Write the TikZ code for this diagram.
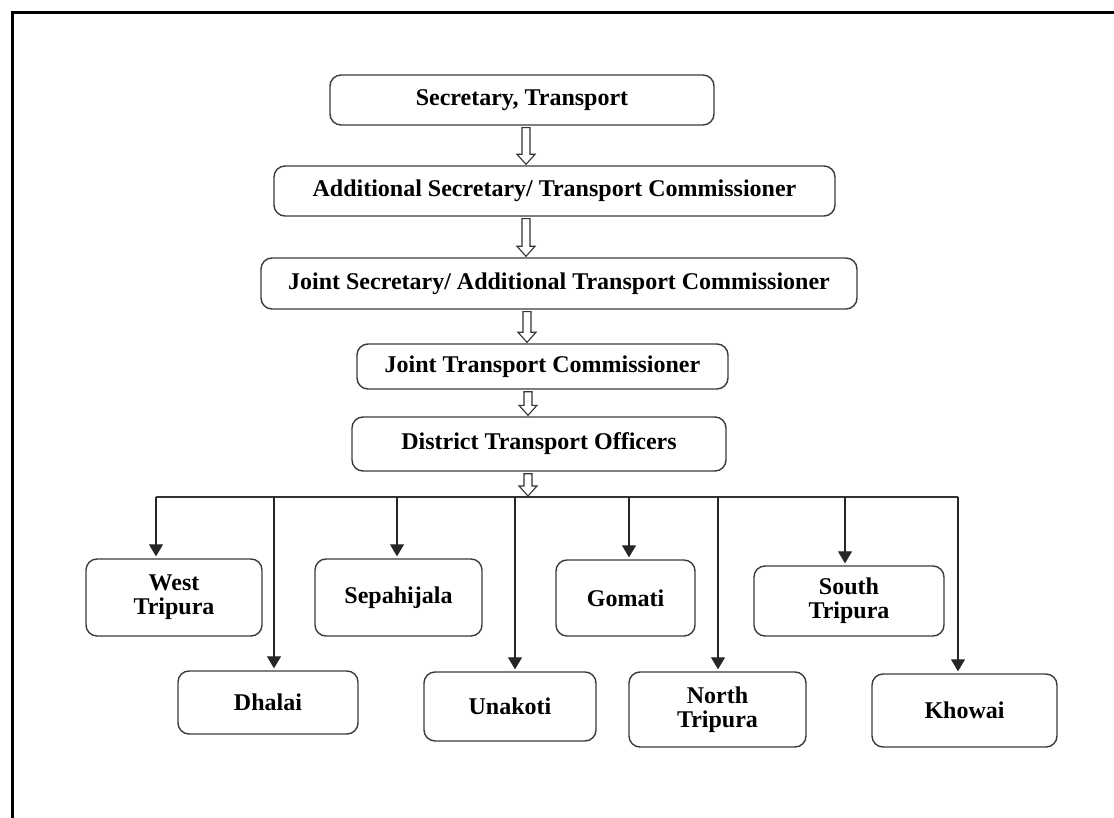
\documentclass[tikz,border=0pt]{standalone}
\usepackage{fontspec}
\setmainfont{Liberation Serif}
\usetikzlibrary{arrows.meta,calc}
\definecolor{boxgray}{HTML}{3A3A3A}
\newcommand\boxat[6]{\node[box, minimum width={(#4-#2)*1pt}, minimum height={(#5-#3)*1pt}] (#1) at ({(#2+#4)/2},{(#3+#5)/2}) {#6};}
\newcommand\hollowarr[3]{\draw[harrow] let \p1=(#1.south), \p2=(#2) in
  ({#3pt-4pt},{\y1-2pt}) -- ({#3pt+4pt},{\y1-2pt}) -- ({#3pt+4pt},{\y2+11pt}) -- ({#3pt+9pt},{\y2+11pt}) -- ({#3pt},{\y2+1pt}) -- ({#3pt-9pt},{\y2+11pt}) -- ({#3pt-4pt},{\y2+11pt}) -- cycle;}
\begin{document}
\begin{tikzpicture}[x=1pt,y=-1pt,
  box/.style={draw=boxgray, line width=1.4pt, rounded corners=11pt, inner sep=0pt, align=center, font=\bfseries\fontsize{24}{24}\selectfont, text=black},
  drop/.style={draw=black!85, line width=1.3pt, shorten >=2pt, -{Triangle[length=12pt,width=14pt]}},
  harrow/.style={draw=black!80, line width=1.1pt, fill=white},
  bus/.style={draw=black!80, line width=1.3pt},
  frame/.style={draw=black, line width=3pt}]
\useasboundingbox (0,0) rectangle (1114,818);
\draw[frame] (12,818) -- (12,13) -- (1114,13);

\boxat{s1}{330}{75}{714}{125}{Secretary, Transport}
\boxat{s2}{274}{166}{835}{216}{Additional Secretary/ Transport Commissioner}
\boxat{s3}{261}{258}{857}{309}{Joint Secretary/ Additional Transport Commissioner}
\boxat{s4}{357}{344}{728}{389}{Joint Transport Commissioner}
\boxat{s5}{352}{417}{726}{471}{District Transport Officers}

\boxat{west}{86}{559}{262}{636}{West\\Tripura}
\boxat{sepa}{315}{559}{482}{636}{Sepahijala}
\boxat{goma}{556}{560}{695}{636}{Gomati}
\boxat{south}{754}{566}{944}{636}{South\\Tripura}
\boxat{dhal}{178}{671}{358}{734}{Dhalai}
\boxat{unak}{424}{672}{596}{741}{Unakoti}
\boxat{north}{629}{672}{806}{747}{North\\Tripura}
\boxat{khow}{872}{674}{1057}{747}{Khowai}

\coordinate (bus) at (528,497);
\hollowarr{s1}{s2.north}{526}
\hollowarr{s2}{s3.north}{526}
\hollowarr{s3}{s4.north}{527}
\hollowarr{s4}{s5.north}{528}
\hollowarr{s5}{bus}{528}

\coordinate (bW) at (156,497);
\coordinate (bD) at (274,497);
\coordinate (bS) at (397,497);
\coordinate (bU) at (515,497);
\coordinate (bG) at (629,497);
\coordinate (bN) at (718,497);
\coordinate (bSo) at (845,497);
\coordinate (bK) at (958,497);
\draw[bus] (bW) -- (bK);
\draw[drop] (bW) -- (bW |- west.north);
\draw[drop] (bD) -- (bD |- dhal.north);
\draw[drop] (bS) -- (bS |- sepa.north);
\draw[drop] (bU) -- (bU |- unak.north);
\draw[drop] (bG) -- (bG |- goma.north);
\draw[drop] (bN) -- (bN |- north.north);
\draw[drop] (bSo) -- (bSo |- south.north);
\draw[drop] (bK) -- (bK |- khow.north);
\end{tikzpicture}
\end{document}
